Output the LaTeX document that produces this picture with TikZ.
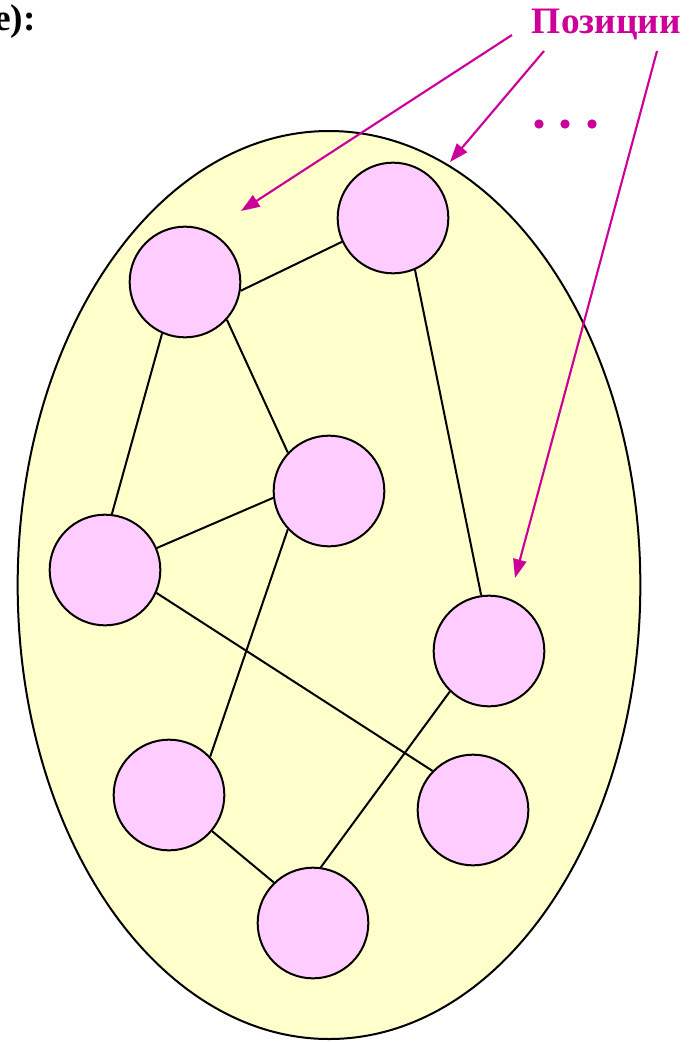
\documentclass[tikz,border=0pt]{standalone}
\usepackage{fontspec}
\setmainfont{Liberation Serif}
\usetikzlibrary{arrows.meta,shapes.geometric}
\definecolor{ellfill}{HTML}{FFFFCC}
\definecolor{nodefill}{HTML}{FFCCFF}
\definecolor{mag}{HTML}{CC0099}
\begin{document}
\begin{tikzpicture}[x=0.75pt,y=-0.75pt,
  vert/.style={circle,draw=black,fill=nodefill,line width=1.5pt,minimum size=83pt,inner sep=0pt},
  edge/.style={draw=black,line width=1.5pt},
  pointer/.style={draw=mag,line width=1.6pt,-{Triangle[length=14pt,width=10pt]}},
  dotmark/.style={circle,fill=mag,inner sep=0pt,minimum size=7pt},
  lbl/.style={inner sep=0pt,font=\fontsize{28}{33}\selectfont\bfseries}]
\useasboundingbox (0,0) rectangle (695,1042);
\node[ellipse,draw=black,fill=ellfill,line width=1.5pt,minimum width=467pt,minimum height=681pt,inner sep=0pt] (ell) at (329,585) {};
\node[vert] (A) at (185,282) {};
\node[vert] (B) at (393,218) {};
\node[vert] (C) at (329,491) {};
\node[vert] (D) at (105,570) {};
\node[vert] (E) at (489,651) {};
\node[vert] (F) at (169,795) {};
\node[vert] (G) at (473,810) {};
\node[vert] (H) at (313,923) {};
\draw[edge] (A.-9) -- (B.205);
\draw[edge] (A.246) -- (D.83);
\draw[edge] (A.-42) -- (C.137);
\draw[edge] (B.-67) -- (E.98);
\draw[edge] (C.187) -- (D.23);
\draw[edge] (C.223) -- (F.43);
\draw[edge] (D.-24) -- (G.136);
\draw[edge] (E.226) -- (H.82);
\draw[edge] (F.-40) -- (H.134);
\node[lbl,anchor=base east,text=mag] (pos) at (681,33) {Позиции};
\node[lbl,anchor=base east] (lab) at (36,31) {e):};
\coordinate (s1) at (512,35);
\coordinate (s2) at (544,51);
\coordinate (s3) at (657,51);
\coordinate (t1) at (241,211);
\coordinate (t2) at (450,162);
\coordinate (t3) at (515,578);
\draw[pointer] (s1) -- (t1);
\draw[pointer] (s2) -- (t2);
\draw[pointer] (s3) -- (t3);
\node[dotmark] (d1) at (539,124) {};
\node[dotmark] (d2) at (565,124) {};
\node[dotmark] (d3) at (592,124) {};
\end{tikzpicture}
\end{document}
